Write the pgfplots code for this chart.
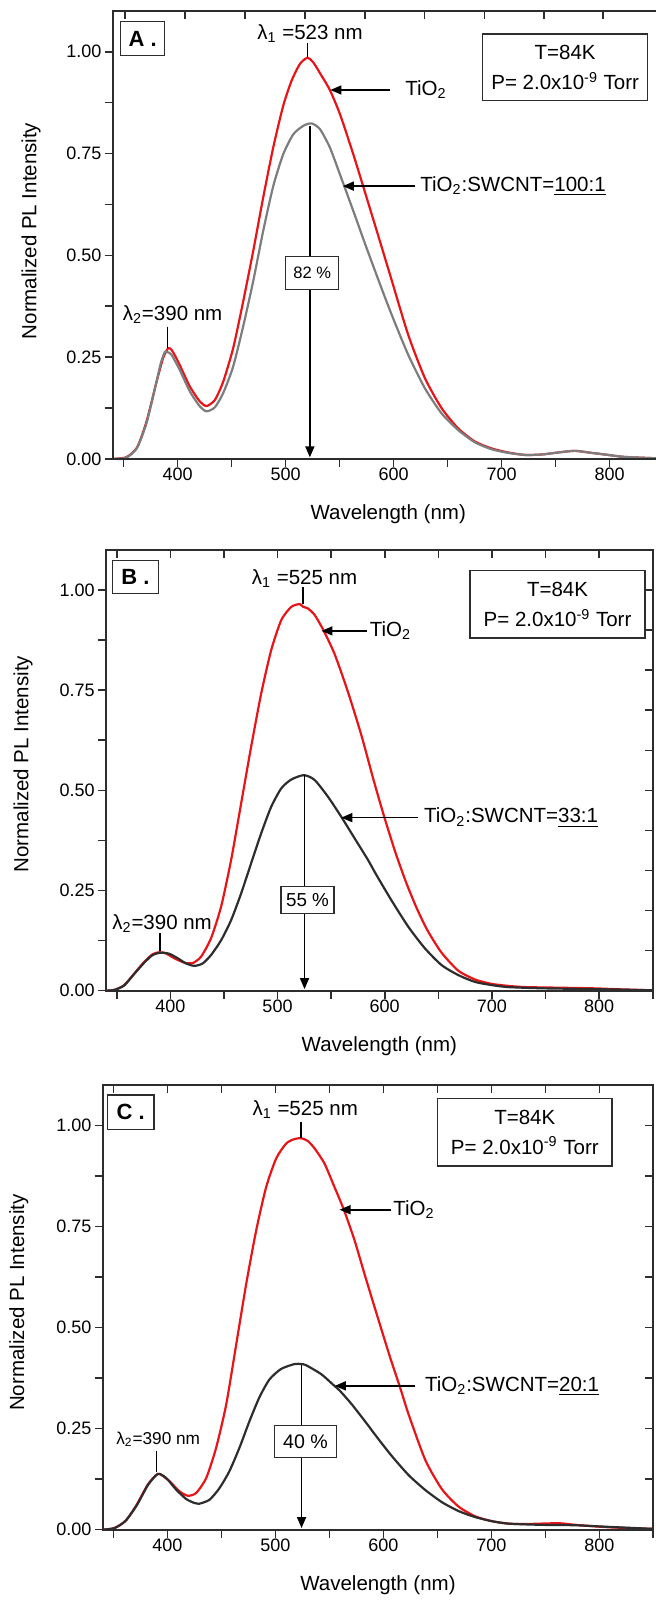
\documentclass[border=0pt]{standalone}
\usepackage{fontspec}
\setmainfont{Liberation Sans}
\usepackage{pgfplots}
\pgfplotsset{compat=1.18}
\usetikzlibrary{arrows.meta}
\definecolor{pred}{RGB}{232,20,24}
\definecolor{pgrayA}{RGB}{125,125,125}
\definecolor{pdark}{RGB}{45,45,45}
\definecolor{axc}{RGB}{45,45,45}
\newcommand\annfont{\fontsize{10.25}{15}\selectfont}
\tikzset{ann/.style={-{Triangle[length=5.5pt,width=4.5pt]}, line width=0.8pt, black},
  pbox/.style={draw=axc, line width=0.6pt, fill=white, inner sep=0pt},
  txt/.style={inner sep=0pt, font=\annfont}}
\pgfplotsset{
  panel/.style={
    scale only axis,
    xmin=340, xmax=850, ymin=0, ymax=1.1,
    xtick={400,500,600,700,800},
    minor xtick={350,450,550,650,750,850},
    ytick={0,0.25,0.5,0.75,1},
    minor ytick={0.125,0.375,0.625,0.875},
    xtick pos=left, ytick pos=left,
    tick align=outside,
    major tick length=4pt, minor tick length=4pt,
    tick style={axc, line width=0.8pt},
    axis line style={axc, line width=1pt},
    tick label style={font=\fontsize{9}{10}\selectfont},
    xticklabel style={inner sep=0.5pt},
    yticklabel style={inner xsep=1.5pt, /pgf/number format/fixed, /pgf/number format/fixed zerofill, /pgf/number format/precision=2},
    /pgf/number format/assume math mode=true,
    label style={font=\fontsize{10.25}{12}\selectfont},
    xlabel={Wavelength (nm)},
    ylabel={Normalized PL Intensity},
  },
  over/.style={
    scale only axis,
    xmin=340, xmax=850, ymin=0, ymax=1.1,
    xtick pos=right, ytick pos=right,
    tick align=inside,
    major tick length=4pt,
    tick style={axc, line width=0.8pt},
    axis line style={axc, line width=1pt},
    xticklabels={}, yticklabels={},
    minor tick num=0,
  },
  redl/.style={color=pred, line width=1.1pt, smooth, tension=0.4},
}
\begin{document}
\begin{tikzpicture}
\path[use as bounding box] (0,0) rectangle (327.5pt,800pt);

% ================= Panel A =================
\begin{axis}[panel, at={(56.35pt,570.5pt)}, anchor=south west, width=275.5pt, height=224pt,
  xlabel style={at={(axis description cs:0.5,-0.123)}, anchor=center},
  ylabel style={at={(axis description cs:-0.148,0.509)}, anchor=center}]
\addplot[redl] coordinates {
(340,0) (351,0.003) (356,0.010) (362,0.026) (366,0.05) (371.3,0.092) (376,0.14)
(380.6,0.19) (386.7,0.248) (391.4,0.272) (394.4,0.268) (398,0.252) (402,0.231)
(411.4,0.178) (420.7,0.141) (426.9,0.130) (434.6,0.145) (442.3,0.19) (451.5,0.272)
(460.8,0.387) (470,0.51) (479.3,0.642) (488.6,0.765) (497.8,0.867) (505.6,0.929)
(513.3,0.970) (520.1,0.985) (525.6,0.974) (533.3,0.941) (541,0.906) (550.3,0.847)
(562.7,0.748) (575,0.642) (587.3,0.535) (598.1,0.440) (613.5,0.305) (628.9,0.199)
(644.4,0.125) (659.8,0.075) (675.2,0.043) (690.6,0.026) (706,0.016) (721.5,0.010)
(736.9,0.011) (752.3,0.016) (767.7,0.020) (783.2,0.015) (798.6,0.010) (814,0.005) (850,0.001)
};
\addplot[color=pgrayA, line width=1.1pt, smooth, tension=0.4] coordinates {
(340,0) (351,0.002) (356,0.009) (362,0.025) (366,0.048) (371.3,0.088) (376,0.138)
(380.6,0.19) (384.5,0.235) (388.3,0.263) (391,0.262) (394.4,0.256) (402,0.219)
(411.4,0.166) (420.7,0.129) (426.9,0.117) (434.6,0.127) (442.3,0.162) (451.5,0.227)
(460.8,0.326) (470,0.436) (479.3,0.56) (488.6,0.67) (497.8,0.748) (507.1,0.797)
(516.4,0.818) (524.1,0.824) (531.8,0.81) (541,0.765) (550.3,0.699) (562.7,0.609)
(575,0.518) (587.3,0.43) (598.1,0.355) (613.5,0.256) (628.9,0.174) (644.4,0.112)
(659.8,0.071) (675.2,0.041) (690.6,0.024) (706,0.015) (721.5,0.010) (736.9,0.011)
(752.3,0.016) (767.7,0.020) (783.2,0.015) (798.6,0.010) (814,0.005) (850,0.001)
};
\node[pbox, minimum width=22pt, minimum height=17pt, font=\fontsize{11}{13}\selectfont\bfseries] at (axis cs:367.7,1.032) {A .};
\node[txt] at (axis cs:522.7,1.044) {λ\textsubscript{1} =523 nm};
\draw[line width=0.6pt] (axis cs:520.5,1.022) -- (axis cs:520.5,0.988);
\draw[ann] (axis cs:596.6,0.906) -- (axis cs:541.5,0.906);
\node[txt, anchor=west] at (axis cs:610.5,0.906) {TiO\textsubscript{2}};
\draw[ann] (axis cs:619.7,0.670) -- (axis cs:553,0.670);
\node[txt, anchor=west] at (axis cs:624.4,0.670) {TiO\textsubscript{2}:SWCNT=\underline{100:1}};
\node[pbox, minimum width=82.5pt, minimum height=33.3pt, align=center, font=\annfont] at (axis cs:758.8,0.9615) {T=84K\\P= 2.0x10\textsuperscript{-9} Torr};
\node[txt] at (axis cs:395.4,0.354) {λ\textsubscript{2}=390 nm};
\draw[line width=0.6pt] (axis cs:390.7,0.325) -- (axis cs:390.7,0.272);
\draw[ann] (axis cs:522.5,0.818) -- (axis cs:522.5,0.004);
\node[pbox, minimum width=26.5pt, minimum height=16.5pt, font=\fontsize{8.25}{10}\selectfont] at (axis cs:524.6,0.456) {82 \%};
\end{axis}
\begin{axis}[over, at={(56.35pt,570.5pt)}, anchor=south west, width=275.5pt, height=224pt,
  xtick={351.5,407,462.5,518,573.5,628.5,684,739,794},
  ytick={0,0.211,0.422,0.633,0.844,1.055}]
\end{axis}

% ================= Panel B =================
\begin{axis}[panel, at={(53pt,304.65pt)}, anchor=south west, width=273.35pt, height=220.35pt,
  xlabel style={at={(axis description cs:0.5,-0.1255)}, anchor=center},
  ylabel style={at={(axis description cs:-0.1518,0.514)}, anchor=center}]
\addplot[redl] coordinates {
(340,0) (347.8,0.002) (357,0.014) (366.4,0.043) (375.7,0.072) (383.5,0.091) (389.7,0.096)
(395.9,0.093) (403.7,0.081) (413.1,0.070) (420.9,0.069) (428.7,0.085) (438,0.131)
(447.4,0.21) (456.7,0.326) (466.1,0.468) (475.4,0.609) (484.8,0.742) (494.1,0.85)
(503.5,0.925) (512.8,0.958) (520.6,0.965) (524,0.958) (528.4,0.954) (534.6,0.938)
(542.4,0.902) (553.3,0.84) (565.8,0.745) (578.3,0.637) (590,0.522) (600,0.43) (610,0.345)
(620,0.27) (630,0.205) (640,0.15) (653,0.095) (668.6,0.05) (684.1,0.028) (699.7,0.017)
(715.3,0.012) (730.8,0.009) (762,0.0075) (793.1,0.006) (824.3,0.003) (850,0.001)
};
\addplot[color=pdark, line width=1.1pt, smooth, tension=0.4] coordinates {
(340,0) (348,0.002) (357,0.013) (366.4,0.042) (375.7,0.07) (383.5,0.089) (391.3,0.095)
(399.1,0.092) (406.9,0.081) (414.6,0.068) (422.4,0.062) (430.2,0.068) (438,0.089)
(447.4,0.126) (456.7,0.176) (466.1,0.243) (475.4,0.318) (484.8,0.393) (494.1,0.459)
(503.5,0.505) (512.8,0.527) (524.6,0.538) (534.6,0.526) (547.1,0.484) (559.5,0.434)
(572,0.38) (584.5,0.326) (592,0.29) (606.2,0.226) (621.9,0.16) (637.4,0.106) (653,0.064)
(668.6,0.039) (684.1,0.022) (699.7,0.014) (715.3,0.009) (746.4,0.006) (793.1,0.004) (850,0.001)
};
\node[pbox, minimum width=22.9pt, minimum height=16.3pt, font=\fontsize{11}{13}\selectfont\bfseries] at (axis cs:367.4,1.0325) {B .};
\node[txt] at (axis cs:525.2,1.029) {λ\textsubscript{1} =525 nm};
\draw[line width=0.6pt] (axis cs:523.7,1.008) -- (axis cs:523.7,0.965);
\draw[ann] (axis cs:583.7,0.898) -- (axis cs:541,0.898);
\node[txt, anchor=west] at (axis cs:585.7,0.898) {TiO\textsubscript{2}};
\draw[ann] (axis cs:630.6,0.432) -- (axis cs:559.5,0.432);
\node[txt, anchor=west] at (axis cs:636.4,0.432) {TiO\textsubscript{2}:SWCNT=\underline{33:1}};
\node[pbox, minimum width=87.5pt, minimum height=33.8pt, align=center, font=\annfont] at (axis cs:761.2,0.9645) {T=84K\\P= 2.0x10\textsuperscript{-9} Torr};
\node[txt] at (axis cs:392.3,0.168) {λ\textsubscript{2}=390 nm};
\draw[line width=0.6pt] (axis cs:390.4,0.143) -- (axis cs:390.4,0.098);
\draw[ann] (axis cs:525.2,0.538) -- (axis cs:525.2,0.004);
\node[pbox, minimum width=26.5pt, minimum height=13.5pt, font=\fontsize{9.4}{11}\selectfont] at (axis cs:528,0.227) {55 \%};
\end{axis}
\begin{axis}[over, at={(53pt,304.65pt)}, anchor=south west, width=273.35pt, height=220.35pt,
  xtick={350,400,...,850},
  ytick={0,0.1,...,1.0}]
\end{axis}

% ================= Panel C =================
\begin{axis}[panel, at={(51.35pt,35.15pt)}, anchor=south west, width=275.3pt, height=222.2pt,
  xlabel style={at={(axis description cs:0.5,-0.126)}, anchor=center},
  ylabel style={at={(axis description cs:-0.1524,0.511)}, anchor=center}]
\addplot[redl] coordinates {
(340,0) (350.9,0.004) (361.2,0.022) (371.5,0.062) (381.8,0.112) (389.5,0.135) (393,0.138)
(401.9,0.12) (411.1,0.095) (418.9,0.084) (426.6,0.091) (435.9,0.128) (445.1,0.203)
(454.4,0.31) (463.7,0.459) (472.9,0.608) (482.2,0.741) (491.4,0.848) (500.7,0.919)
(510,0.956) (517.7,0.967) (524,0.969) (530,0.962) (536.2,0.944) (545.5,0.906)
(554.7,0.848) (563.4,0.792) (573.3,0.716) (582.5,0.633) (592.5,0.545) (600,0.48)
(607,0.42) (615.7,0.35) (623.4,0.285) (638.9,0.172) (654.3,0.1) (669.7,0.057)
(685.2,0.033) (700.6,0.021) (716,0.015) (731.5,0.014) (762.4,0.016) (777.8,0.012)
(808.7,0.006) (850,0.002)
};
\addplot[color=pdark, line width=1.1pt, smooth, tension=0.4] coordinates {
(340,0) (350.9,0.004) (361.2,0.022) (371.5,0.06) (381.8,0.11) (391,0.138) (398.8,0.128)
(408.1,0.099) (417.3,0.076) (425,0.066) (429,0.064) (438.9,0.074) (448.2,0.103)
(457.4,0.145) (466.7,0.203) (476,0.269) (485.2,0.328) (494.5,0.372) (505.3,0.398)
(517.7,0.41) (524,0.41) (528.5,0.407) (542.4,0.385) (553,0.36) (560,0.343) (570.2,0.312)
(582.5,0.27) (594.9,0.226) (607.9,0.182) (623.4,0.135) (638.9,0.098) (654.3,0.068)
(669.7,0.046) (685.2,0.031) (700.6,0.021) (716,0.015) (746.9,0.012) (777.8,0.011)
(808.7,0.007) (850,0.002)
};
\node[pbox, minimum width=23.3pt, minimum height=17.2pt, font=\fontsize{11}{13}\selectfont\bfseries] at (axis cs:366,1.0335) {C .};
\node[txt] at (axis cs:527.6,1.039) {λ\textsubscript{1} =525 nm};
\draw[line width=0.6pt] (axis cs:523.6,1.010) -- (axis cs:523.6,0.970);
\draw[ann] (axis cs:607,0.792) -- (axis cs:559.4,0.792);
\node[txt, anchor=west] at (axis cs:608.8,0.792) {TiO\textsubscript{2}};
\draw[ann] (axis cs:629.6,0.356) -- (axis cs:555,0.356);
\node[txt, anchor=west] at (axis cs:638.2,0.356) {TiO\textsubscript{2}:SWCNT=\underline{20:1}};
\node[pbox, minimum width=87.1pt, minimum height=33.8pt, align=center, font=\annfont] at (axis cs:731,0.984) {T=84K\\P= 2.0x10\textsuperscript{-9} Torr};
\node[txt, font=\fontsize{8.6}{10}\selectfont] at (axis cs:391.4,0.2235) {λ\textsubscript{2}=390 nm};
\draw[line width=0.6pt] (axis cs:389.5,0.195) -- (axis cs:389.5,0.142);
\draw[ann] (axis cs:524.2,0.408) -- (axis cs:524.2,0.004);
\node[pbox, minimum width=31pt, minimum height=16pt, font=\fontsize{9.8}{11}\selectfont] at (axis cs:527.8,0.2175) {40 \%};
\end{axis}
\begin{axis}[over, at={(51.35pt,35.15pt)}, anchor=south west, width=275.3pt, height=222.2pt,
  xtick={350,400,...,850},
  ytick={0,0.125,...,1.0}]
\end{axis}
\end{tikzpicture}
\end{document}
